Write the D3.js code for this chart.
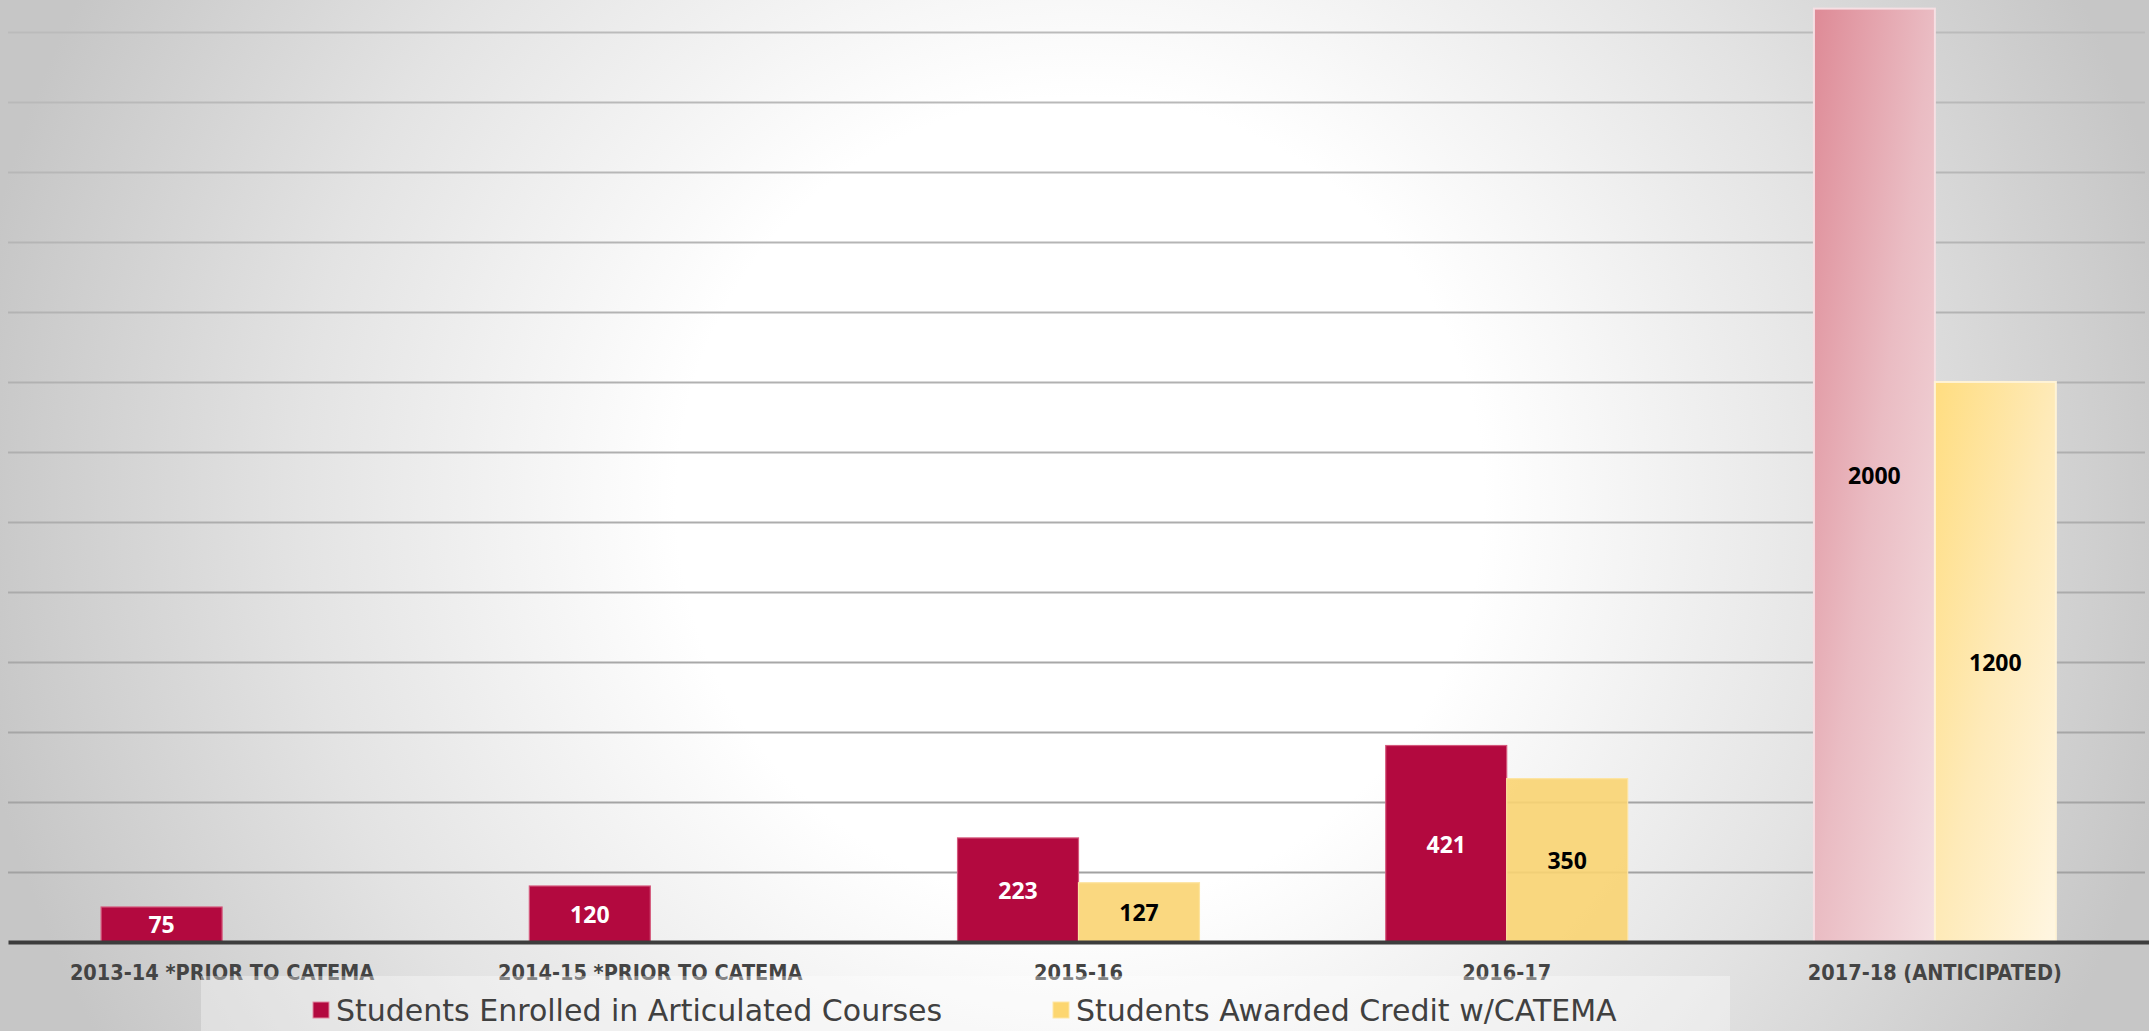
<!DOCTYPE html>
<meta charset="utf-8">
<html>
<head>
  <script src="https://d3js.org/d3.v7.min.js"></script>
  <style>
    body { margin: 0; overflow: hidden; }
  </style>
</head>
<body>
<div id="chart"></div>
<script>

// data
var categories = ["2013-14 *PRIOR TO CATEMA", "2014-15 *PRIOR TO CATEMA", "2015-16", "2016-17", "2017-18 (ANTICIPATED)"];
var seriesNames = ["Students Enrolled in Articulated Courses", "Students Awarded Credit w/CATEMA"];
var enrolled = [75, 120, 223, 421, 2000];
var awarded = [null, null, 127, 350, 1200];
var gridValues = [150, 300, 450, 600, 750, 900, 1050, 1200, 1350, 1500, 1650, 1800, 1950];

var width = 2149, height = 1031;
var plot = {left: 8, right: 2149, base: 942};

var svg = d3.select("#chart").append("svg")
  .attr("width", width)
  .attr("height", height);

var defs = svg.append("defs");

// background glow
var bg = defs.append("radialGradient")
  .attr("id", "bg")
  .attr("gradientUnits", "userSpaceOnUse")
  .attr("cx", 1080).attr("cy", 500).attr("r", 1120);
bg.append("stop").attr("offset", 0).attr("stop-color", "#ffffff");
bg.append("stop").attr("offset", 0.36).attr("stop-color", "#ffffff");
bg.append("stop").attr("offset", 0.7).attr("stop-color", "#e3e3e3");
bg.append("stop").attr("offset", 1).attr("stop-color", "#c6c6c6");

var pink = defs.append("linearGradient").attr("id", "pinkGrad")
  .attr("x1", 0).attr("y1", 0).attr("x2", 1).attr("y2", 1);
pink.append("stop").attr("offset", 0).attr("stop-color", "#de8a96");
pink.append("stop").attr("offset", 0.5).attr("stop-color", "#eabcc3");
pink.append("stop").attr("offset", 1).attr("stop-color", "#f4dfe2");

var gold = defs.append("linearGradient").attr("id", "goldGrad")
  .attr("x1", 0).attr("y1", 0).attr("x2", 1).attr("y2", 1);
gold.append("stop").attr("offset", 0).attr("stop-color", "#ffdd80");
gold.append("stop").attr("offset", 0.5).attr("stop-color", "#feeab8");
gold.append("stop").attr("offset", 1).attr("stop-color", "#fff6e2");

svg.append("rect")
  .attr("width", width).attr("height", height)
  .attr("fill", "url(#bg)");

// scales
var x0 = d3.scaleBand()
  .domain(categories)
  .range([plot.left, plot.right]);

var x1 = d3.scaleBand()
  .domain(seriesNames)
  .range([0, x0.bandwidth()])
  .paddingOuter(0.77);

var y = d3.scaleLinear()
  .domain([0, 2100])
  .range([plot.base, plot.base - 2100 * 0.4667]);

// gridlines, a bit darker near the bottom
var gridColor = d3.interpolateRgb("#a0a0a0", "#bcbcbc");
svg.append("g")
  .attr("transform", "translate(" + plot.left + ",0)")
  .call(d3.axisLeft(y).tickValues(gridValues).tickSize(-(2145 - plot.left)).tickFormat(""))
  .call(function(g) {
    g.select(".domain").remove();
    g.selectAll(".tick line")
      .attr("stroke", function(d) { return gridColor(d / 2000); })
      .attr("stroke-width", 2);
  });

var rows = categories.map(function(c, i) {
  return {cat: c, idx: i, vals: [enrolled[i], awarded[i]]};
});

var last = categories.length - 1;

var groups = svg.selectAll("g.cat")
  .data(rows)
  .enter().append("g")
  .attr("class", "cat")
  .attr("transform", function(d) { return "translate(" + x0(d.cat) + ",0)"; });

var bars = groups.selectAll("g.bar")
  .data(function(d) {
    return d.vals.map(function(v, k) { return {s: k, v: v, idx: d.idx}; })
      .filter(function(e) { return e.v != null; });
  })
  .enter().append("g").attr("class", "bar");

bars.append("rect")
  .attr("x", function(d) { return x1(seriesNames[d.s]); })
  .attr("y", function(d) { return y(d.v); })
  .attr("width", x1.bandwidth())
  .attr("height", function(d) { return y(0) - y(d.v); })
  .attr("fill", function(d) {
    if (d.idx === last) return d.s === 0 ? "url(#pinkGrad)" : "url(#goldGrad)";
    return d.s === 0 ? "#b3093f" : "#fad472";
  })
  .attr("fill-opacity", function(d) { return (d.s === 1 && d.idx !== last) ? 0.9 : 1; })
  .attr("stroke", function(d) {
    if (d.idx === last) return d.s === 0 ? "#f6dfe3" : "#fff3d6";
    return d.s === 0 ? "#d4587c" : "#fde4a0";
  })
  .attr("stroke-width", function(d) { return d.idx === last ? 2 : 1.2; });

bars.append("text")
  .attr("x", function(d) { return x1(seriesNames[d.s]) + x1.bandwidth() / 2; })
  .attr("y", function(d) { return (y(d.v) + y(0)) / 2; })
  .attr("text-anchor", "middle")
  .attr("dominant-baseline", "central")
  .style("font-family", "'Open Sans', sans-serif")
  .style("font-weight", "bold")
  .style("font-size", "23px")
  .attr("fill", function(d) { return (d.s === 0 && d.idx !== last) ? "#ffffff" : "#000000"; })
  .text(function(d) { return d.v; });

// axis line + category labels
svg.append("g")
  .attr("transform", "translate(0," + plot.base + ")")
  .call(d3.axisBottom(x0).tickSize(0).tickPadding(23))
  .call(function(g) {
    g.select(".domain").attr("stroke", "#3d3d3d").attr("stroke-width", 4);
    g.selectAll(".tick text")
      .attr("dy", "0.71em")
      .style("font-family", "'DejaVu Sans Condensed', 'DejaVu Sans', sans-serif")
      .style("font-stretch", "condensed")
      .style("font-weight", "bold")
      .style("font-size", "21.5px")
      .attr("fill", "#444444");
  });

// legend
svg.append("rect")
  .attr("x", 201).attr("y", 976)
  .attr("width", 1529).attr("height", 60)
  .attr("fill", "#ffffff").attr("fill-opacity", 0.35);

var legendX = [313, 1053];
var legendColors = ["#b3093f", "#fcd670"];
var leg = svg.selectAll("g.legend")
  .data(seriesNames)
  .enter().append("g")
  .attr("class", "legend")
  .attr("transform", function(d, i) { return "translate(" + legendX[i] + ",1010)"; });

leg.append("rect")
  .attr("x", 0).attr("y", -8)
  .attr("width", 16).attr("height", 16)
  .attr("fill", function(d, i) { return legendColors[i]; })
  .attr("stroke", function(d, i) { return i === 0 ? "#e08aa2" : "#fde6a6"; })
  .attr("stroke-width", 1);

leg.append("text")
  .attr("x", 23)
  .attr("dominant-baseline", "central")
  .style("font-family", "'DejaVu Sans', sans-serif")
  .style("font-size", "30px")
  .attr("fill", "#404040")
  .text(function(d) { return d; });

</script>
</body>
</html>
